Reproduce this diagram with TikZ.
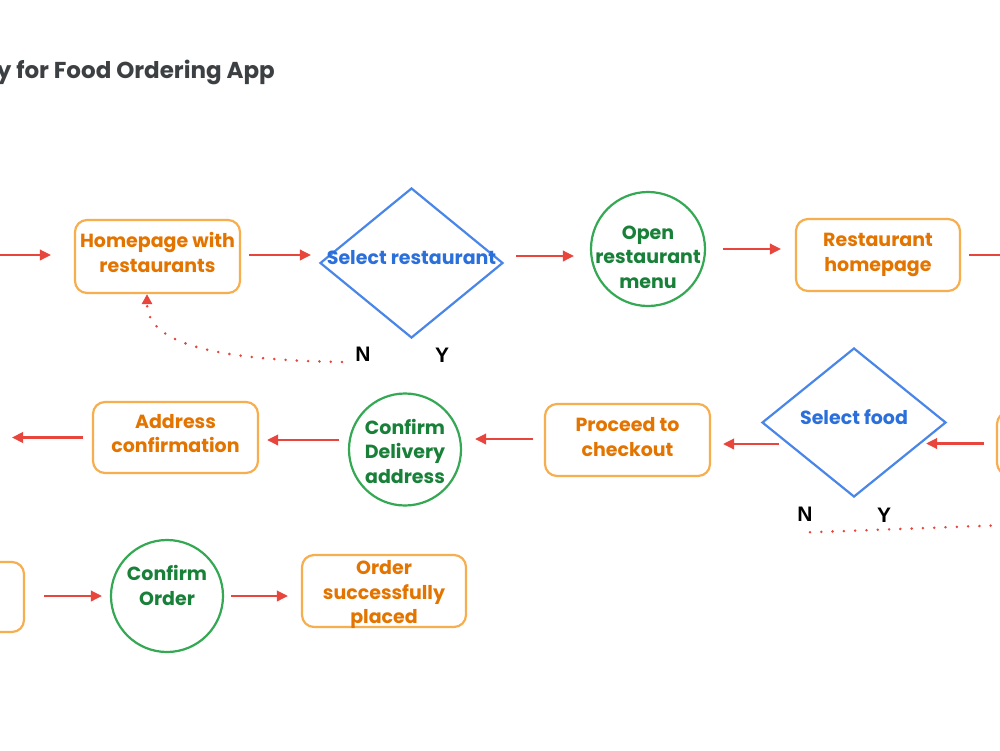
\documentclass[tikz,border=0pt]{standalone}
\usepackage{fontspec}
\setmainfont{Poppins}
\newfontfamily\labfont{Liberation Sans}
\usetikzlibrary{shapes.geometric,arrows.meta,calc}
\definecolor{orB}{HTML}{F6AE4F}
\definecolor{orT}{HTML}{E37400}
\definecolor{blB}{HTML}{4A86E8}
\definecolor{blT}{HTML}{2B6FDB}
\definecolor{grB}{HTML}{34A853}
\definecolor{grT}{HTML}{188038}
\definecolor{arR}{HTML}{E8453C}
\definecolor{ttl}{HTML}{3C4043}
\tikzset{
  boxnode/.style={draw=orB, line width=2.2pt, rounded corners=12pt, inner sep=0pt},
  boxtext/.style={text=orT, font=\bfseries\fontsize{19}{24.5}\selectfont, align=center, inner sep=0pt},
  dianode/.style={diamond, draw=blB, line width=2.2pt, inner sep=0pt},
  dialabel/.style={text=blT, font=\bfseries\fontsize{19}{24}\selectfont, inner sep=0pt},
  circnode/.style={circle, draw=grB, line width=2.2pt, inner sep=0pt},
  circtext/.style={text=grT, font=\bfseries\fontsize{19}{24.5}\selectfont, align=center, inner sep=0pt},
  arr/.style={draw=arR, line width=2.2pt, -{Triangle[length=11pt,width=10.5pt]}},
  dotarr/.style={draw=arR, line width=2.8pt, line cap=round, dash pattern=on 0pt off 11.3pt},
  yn/.style={font=\labfont\bfseries\fontsize{21}{21}\selectfont, text=black, inner sep=0pt},
  ttlnode/.style={font=\bfseries\fontsize{23}{28}\selectfont, text=ttl, inner sep=0pt},
}
\begin{document}
\begin{tikzpicture}[x=1pt,y=-1pt]
\useasboundingbox (0,0) rectangle (1000,750);
\clip (0,0) rectangle (1000,750);
\fill[white] (0,0) rectangle (1000,750);

\node[ttlnode, anchor=base east] (title) at (275,78) {y for Food Ordering App};

% row 1
\node[boxnode, minimum width=165pt, minimum height=73pt] (home) at (157.5,256.5) {};
\node[boxtext] (homeT) at ($(home)+(0,-4)$) {Homepage with\\restaurants};
\node[dianode, minimum width=183pt, minimum height=150pt] (selrest) at (411.5,263) {};
\node[dialabel, anchor=base] (selrestlab) at ($(selrest.center)+(0,1)$) {Select restaurant};
\node[circnode, minimum size=114pt] (openmenu) at (648,249) {};
\node[circtext] (openmenuT) at ($(openmenu)+(0,8)$) {Open\\restaurant\\menu};
\node[boxnode, minimum width=164pt, minimum height=72pt] (resthome) at (878,255) {};
\node[boxtext] (resthomeT) at ($(resthome)+(0,0)$) {Restaurant\\homepage};

% row 2
\node[boxnode, minimum width=86pt, minimum height=63pt] (rb2) at (1040,443.5) {};
\node[dianode, minimum width=184pt, minimum height=149pt] (selfood) at (854,422.5) {};
\node[dialabel, anchor=base] (selfoodlab) at ($(selfood.center)+(0,1.5)$) {Select food};
\node[boxnode, minimum width=165pt, minimum height=72pt] (checkout) at (627.5,440) {};
\node[boxtext] (checkoutT) at ($(checkout)+(0,-3)$) {Proceed to\\checkout};
\node[circnode, minimum size=112pt] (confdel) at (405,449.5) {};
\node[circtext] (confdelT) at ($(confdel)+(0,1.5)$) {Confirm\\Delivery\\address};
\node[boxnode, minimum width=165pt, minimum height=71pt] (addrconf) at (175.5,437.5) {};
\node[boxtext] (addrconfT) at ($(addrconf)+(0,-4)$) {Address\\confirmation};

% row 3
\node[boxnode, minimum width=84pt, minimum height=70pt] (lb3) at (-18,597) {};
\node[circnode, minimum size=112pt] (conforder) at (167,596) {};
\node[circtext] (conforderT) at ($(conforder)+(0,-10.5)$) {Confirm\\Order};
\node[boxnode, minimum width=164pt, minimum height=72pt] (placed) at (384,591) {};
\node[boxtext] (placedT) at ($(placed)+(0,3.5)$) {Order\\successfully\\placed};

% Y/N labels
\node[yn] (n1) at (363,354) {N};
\node[yn] (y1) at (442,355) {Y};
\node[yn] (n2) at (805,514) {N};
\node[yn] (y2) at (884,515) {Y};

% free ends
\coordinate (in0) at (-10,255);
\coordinate (out1) at (1015,255);
\coordinate (out2) at (12,437.5);
\coordinate (d1) at (342,362);
\coordinate (d2) at (810,532.3);
\coordinate (d3) at (1012,524.8);

% arrows
\draw[arr, shorten >=23pt] (in0) -- (in0 -| home.west);
\draw[arr, shorten <=8pt, shorten >=8pt] ([yshift=1.5pt]home.east) -- ([yshift=1.5pt]home.east -| selrest.west);
\draw[arr, shorten <=12pt, shorten >=16pt] ([yshift=7pt]selrest.east) -- ([yshift=7pt]selrest.east -| openmenu.west);
\draw[arr, shorten <=17pt, shorten >=14pt] (openmenu.east) -- (openmenu.east -| resthome.west);
\draw[arr, shorten <=8pt] (resthome.east) -- (out1);
\draw[arr, shorten <=12pt, shorten >=-21pt] (rb2.west) -- (rb2.west -| selfood.east);
\draw[arr] ($(selfood.west)+(18,21.5)$) -- ($(checkout.east)+(12,4)$);
\draw[arr, shorten <=11pt, shorten >=13pt] ([yshift=1pt]checkout.west) -- ([yshift=1pt]checkout.west -| confdel.east);
\draw[arr, shorten <=9pt, shorten >=8pt] ([yshift=9.5pt]confdel.west) -- ([yshift=9.5pt]confdel.west -| addrconf.east);
\draw[arr, shorten <=9pt] (addrconf.west) -- (out2);
\draw[arr, shorten <=19pt, shorten >=8pt] ([yshift=1pt]lb3.east) -- ([yshift=1pt]lb3.east -| conforder.west);
\draw[arr, shorten <=7pt, shorten >=13pt] (conforder.east) -- (conforder.east -| placed.west);

% dotted connectors
\draw[dotarr, -{Triangle[length=10pt,width=10pt]}] (d1) .. controls (220,360) and (147,345) .. ([xshift=-10.5pt]home.south);
\draw[dotarr] (d2) -- (d3);
\end{tikzpicture}
\end{document}
